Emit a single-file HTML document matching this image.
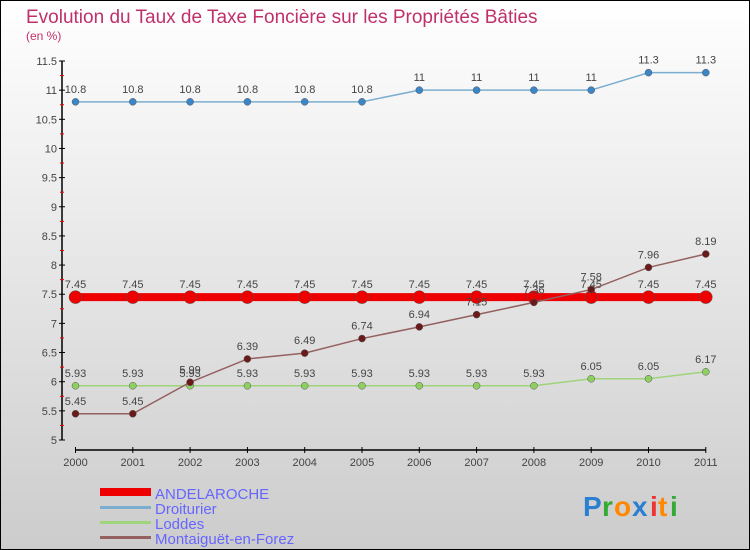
<!DOCTYPE html>
<html><head><meta charset="utf-8"><style>
body{margin:0}
#c{width:750px;height:550px;position:relative;box-sizing:border-box;border:1px solid #000;background:linear-gradient(#fff,#ccc);font-family:"Liberation Sans",sans-serif;overflow:hidden}
</style></head><body>
<div id="c">
<svg width="748" height="548" viewBox="1 1 748 548" id="s" style="position:absolute;left:0;top:0">
<text x="26" y="23" font-size="19" fill="#c0306a">Evolution du Taux de Taxe Foncière sur les Propriétés Bâties</text>
<text x="26" y="40" font-size="12" fill="#c0306a">(en %)</text>
<g id="axes"></g><g id="series"></g>
<g>
<rect x="100" y="488" width="51" height="8" fill="#e00"/>
<text x="155" y="499" font-size="15" fill="#66f">ANDELAROCHE</text>
<rect x="100" y="506" width="51" height="3" fill="#7aaed0"/>
<text x="155" y="514" font-size="15" fill="#66f">Droiturier</text>
<rect x="100" y="521" width="51" height="3" fill="#9ed47a"/>
<text x="155" y="529" font-size="15" fill="#66f">Loddes</text>
<rect x="100" y="536" width="51" height="3" fill="#946060"/>
<text x="155" y="544" font-size="15" fill="#66f">Montaiguët-en-Forez</text>
</g>
<g font-size="28" font-weight="bold">
<text x="583" y="516" fill="#2a7fd0">P</text><text x="602" y="516" fill="#3a3">r</text><text x="614" y="516" fill="#f80">o</text><text x="632" y="516" fill="#2a7fd0">x</text><text x="650" y="516" fill="#e33">i</text><text x="658" y="516" fill="#f80">t</text><text x="670" y="516" fill="#3a3">i</text>
</g>
</svg>
</div>
<script>
const years=["2000","2001","2002","2003","2004","2005","2006","2007","2008","2009","2010","2011"];
const andelaroche=[7.45,7.45,7.45,7.45,7.45,7.45,7.45,7.45,7.45,7.45,7.45,7.45];
const droiturier=[10.8,10.8,10.8,10.8,10.8,10.8,11,11,11,11,11.3,11.3];
const loddes=[5.93,5.93,5.93,5.93,5.93,5.93,5.93,5.93,5.93,6.05,6.05,6.17];
const montaiguet=[5.45,5.45,5.99,6.39,6.49,6.74,6.94,7.15,7.36,7.58,7.96,8.19];
const yTicks=[5,5.5,6,6.5,7,7.5,8,8.5,9,9.5,10,10.5,11,11.5];
const NS="http://www.w3.org/2000/svg";
const X=i=>75.5+i*57.3;
const Y=v=>440-(v-5)/6.5*379;
function el(t,a,p){const e=document.createElementNS(NS,t);for(const k in a)e.setAttribute(k,a[k]);p.appendChild(e);return e;}
const ax=document.getElementById('axes'),sg=document.getElementById('series');
let l=el('line',{x1:62,y1:Y(11.5),x2:62,y2:440,stroke:'#000','stroke-width':1.5},ax);


l=el('line',{x1:75,y1:450,x2:706,y2:450,stroke:'#000','stroke-width':1.5},ax);


yTicks.forEach((v,i)=>{
 el('line',{x1:59,x2:65,y1:Y(v),y2:Y(v),stroke:'#000'},ax);
 if(i<yTicks.length-1) el('line',{x1:60,x2:64,y1:Y(v+0.25),y2:Y(v+0.25),stroke:'#e00'},ax);
 const t=el('text',{x:57,y:Y(v)+4,'font-size':11,fill:'#444','text-anchor':'end'},ax);
 t.textContent=String(v);
 
 
});
years.forEach((y,i)=>{
 el('line',{x1:X(i),x2:X(i),y1:447,y2:453,stroke:'#000'},ax);
 const t=el('text',{x:X(i),y:466,'font-size':11,fill:'#444','text-anchor':'middle'},ax);
 t.textContent=y;
 
 
});
function series(data,name,color,dot,w,r){
 const g=el('g',{},sg);
 
 
 const p=el('polyline',{points:data.map((v,i)=>X(i)+','+Y(v)).join(' '),fill:'none',stroke:color,'stroke-width':w},g);
 
 
 data.forEach((v,i)=>{
  const c=el('circle',{cx:X(i),cy:Y(v),r:r,fill:dot,stroke:'#555','stroke-width':0.5},g);
  
  
  const t=el('text',{x:X(i),y:Y(v)-9,'font-size':11,fill:'#444','text-anchor':'middle'},g);
  t.textContent=String(v);
  
  
 });
}
series(loddes,'loddes','#9ed47a','#8ed060',1.5,3.5);
series(droiturier,'droiturier','#7aaed0','#3a86c8',1.5,3.5);
series(andelaroche,'andelaroche','#e00','#e00',8,6.5);
series(montaiguet,'montaiguet','#946060','#6a1a1a',1.5,3.5);
</script>
</body></html>
